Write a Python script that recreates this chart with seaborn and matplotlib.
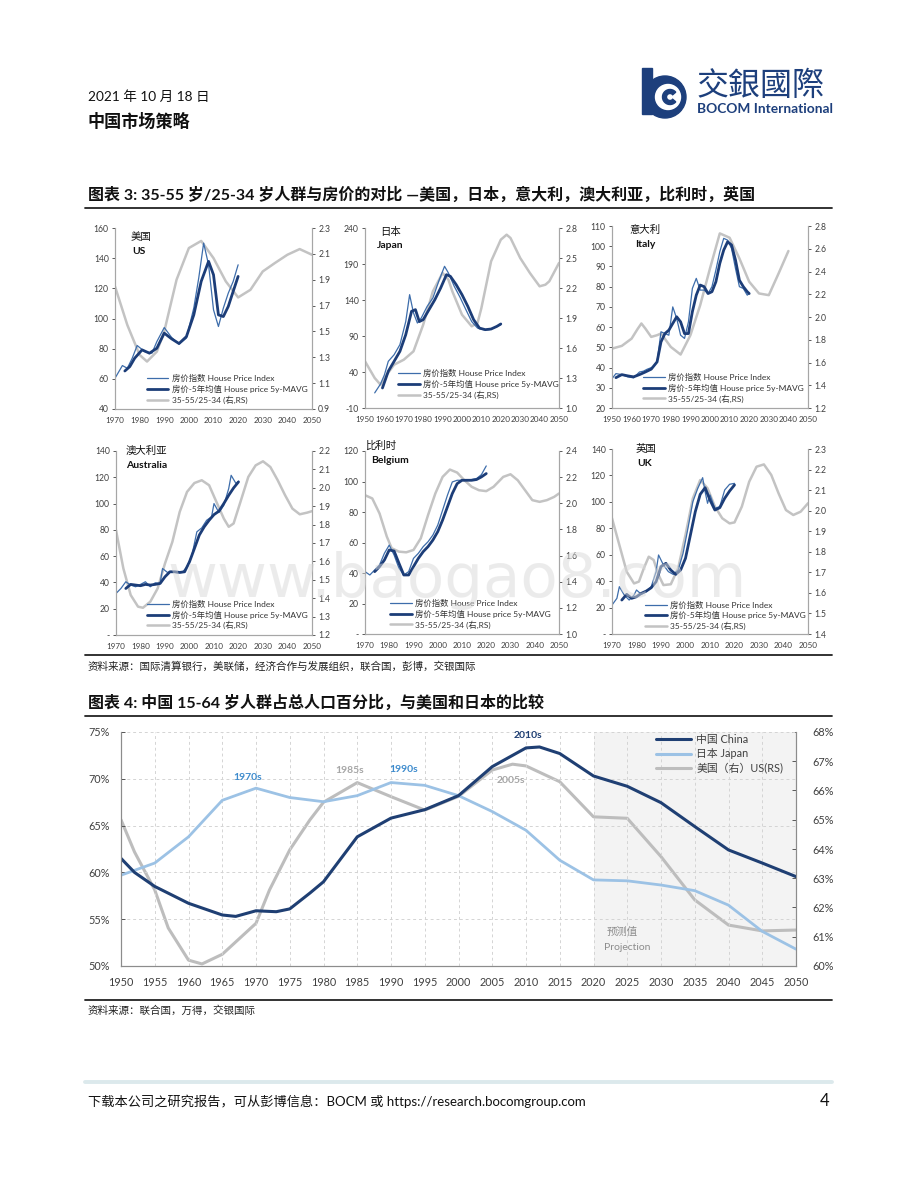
import matplotlib
matplotlib.use('Agg')
import matplotlib.pyplot as plt
from matplotlib.lines import Line2D
from matplotlib.patches import Circle, Wedge, Rectangle
import seaborn as sns

# ---------------- data: figure 3 (house price vs 35-55/25-34 ratio) ----------------
us_hpi_years = [1970, 1973, 1975, 1977, 1979, 1982, 1985, 1987, 1990, 1993, 1996, 1999, 2002, 2004, 2006, 2008, 2010, 2012, 2014, 2016, 2018, 2020]
us_hpi = [60.4, 68.8, 67, 73.7, 82.1, 78.1, 77, 84.7, 94, 87.4, 83, 87, 107, 126.8, 150, 135.6, 105.8, 94.7, 106.9, 116.8, 124.6, 135.6]
us_mavg_years = [1974, 1976, 1978, 1981, 1984, 1987, 1990, 1993, 1996, 1999, 2002, 2005, 2008, 2010, 2012, 2014, 2016, 2018, 2020]
us_mavg = [65.2, 68.1, 73.7, 79.2, 77, 80.3, 90.3, 86.5, 83.4, 88, 102.4, 124.6, 137.9, 129, 102.4, 101.3, 108, 118, 127.9]
us_rs_years = [1970, 1975, 1980, 1983, 1987, 1990, 1995, 2000, 2005, 2010, 2015, 2020, 2025, 2030, 2035, 2040, 2045, 2050]
us_rs = [1.848, 1.55, 1.318, 1.267, 1.344, 1.5, 1.9, 2.145, 2.2, 2.067, 1.887, 1.763, 1.822, 1.964, 2.03, 2.093, 2.137, 2.093]

jp_hpi_years = [1955, 1958, 1960, 1962, 1965, 1968, 1971, 1973, 1975, 1977, 1979, 1982, 1985, 1988, 1991, 1993, 1996, 1999, 2002, 2005, 2008, 2011, 2014, 2017, 2020]
jp_hpi = [11, 23.3, 36, 54.8, 64, 78, 110, 147.4, 122, 108, 115, 131, 142.8, 166, 186.8, 177.5, 159, 143.7, 126.6, 110, 101, 98.8, 98.8, 102, 105.7]
jp_mavg_years = [1959, 1962, 1965, 1968, 1971, 1974, 1976, 1978, 1980, 1983, 1986, 1989, 1992, 1994, 1997, 2000, 2003, 2006, 2009, 2012, 2015, 2018, 2020]
jp_mavg = [17.8, 41, 54.8, 68.7, 91.8, 124.3, 126.6, 110, 112.7, 126.6, 140.4, 156.7, 175.2, 172.9, 161.3, 147.4, 131.2, 112.7, 101, 98.8, 99.7, 103.4, 106.7]
jp_rs_years = [1950, 1955, 1958, 1960, 1965, 1970, 1975, 1980, 1985, 1990, 1993, 1995, 2000, 2005, 2008, 2010, 2015, 2020, 2023, 2025, 2030, 2035, 2040, 2043, 2045, 2050]
jp_rs = [1.467, 1.3, 1.233, 1.3, 1.433, 1.483, 1.567, 1.833, 2.167, 2.35, 2.283, 2.167, 1.933, 1.817, 1.85, 2.0, 2.467, 2.683, 2.733, 2.7, 2.5, 2.35, 2.217, 2.233, 2.267, 2.45]

it_hpi_years = [1950, 1952, 1955, 1958, 1961, 1964, 1966, 1968, 1971, 1973, 1975, 1977, 1979, 1981, 1983, 1985, 1987, 1989, 1991, 1993, 1995, 1997, 1999, 2001, 2003, 2005, 2007, 2009, 2011, 2013, 2015, 2017, 2019, 2020]
it_hpi = [34.5, 37, 36.5, 35.4, 34.9, 37.8, 38.2, 39.2, 40.3, 42.8, 57.7, 56.8, 56, 70, 64.3, 56, 54.4, 62.6, 79.1, 84.1, 78.3, 78.3, 76.6, 80, 88.2, 97.3, 103.9, 103, 98.9, 89, 80, 79.1, 75.8, 76.6]
it_mavg_years = [1952, 1955, 1958, 1961, 1964, 1967, 1970, 1973, 1975, 1977, 1979, 1981, 1983, 1985, 1987, 1989, 1991, 1993, 1995, 1997, 1999, 2001, 2003, 2005, 2007, 2009, 2011, 2013, 2015, 2017, 2019, 2020]
it_mavg = [35, 36.5, 35.9, 35.4, 36.5, 37.8, 39.2, 42.8, 52.7, 56.8, 58.5, 61.8, 65.1, 62.6, 56.8, 56.8, 67.6, 75.8, 80.8, 80, 76.6, 77.5, 82.4, 91.5, 98.1, 102.2, 100.6, 93.2, 83.2, 80, 77.5, 76.6]
it_rs_years = [1950, 1955, 1960, 1963, 1965, 1967, 1970, 1973, 1975, 1980, 1985, 1990, 1995, 2000, 2005, 2010, 2015, 2020, 2025, 2030, 2035, 2040]
it_rs = [1.722, 1.746, 1.81, 1.893, 1.943, 1.899, 1.825, 1.84, 1.855, 1.737, 1.67, 1.84, 2.104, 2.427, 2.735, 2.697, 2.515, 2.31, 2.207, 2.192, 2.383, 2.58]

au_hpi_years = [1970, 1972, 1974, 1976, 1978, 1980, 1982, 1984, 1986, 1988, 1989, 1991, 1993, 1995, 1997, 1999, 2001, 2003, 2005, 2007, 2009, 2010, 2012, 2014, 2016, 2017, 2019, 2020]
au_hpi = [31.6, 35.4, 40.5, 38, 36.7, 38.5, 40.5, 36.7, 39.7, 39.2, 50.6, 47.6, 48.1, 47.3, 47.6, 51.9, 60.8, 78.5, 81.5, 87.3, 89.9, 100, 93.2, 98.7, 111.4, 121.5, 115.2, 117]
au_mavg_years = [1974, 1976, 1978, 1980, 1982, 1984, 1986, 1988, 1990, 1992, 1994, 1996, 1998, 2000, 2002, 2004, 2006, 2008, 2010, 2012, 2014, 2016, 2018, 2020]
au_mavg = [35.4, 38.5, 38, 37.5, 38.5, 38, 38.5, 39.2, 44.3, 48.1, 48.1, 47.6, 48.1, 55.7, 65.8, 76, 82.3, 87.3, 91.6, 94.2, 100, 106.3, 111.9, 116.5]
au_rs_years = [1970, 1973, 1976, 1979, 1981, 1984, 1987, 1990, 1993, 1996, 1999, 2002, 2005, 2008, 2011, 2014, 2016, 2018, 2021, 2024, 2027, 2030, 2033, 2036, 2039, 2042, 2045, 2048, 2050]
au_rs = [1.77, 1.562, 1.417, 1.354, 1.348, 1.381, 1.453, 1.589, 1.706, 1.869, 1.978, 2.026, 2.041, 2.014, 1.923, 1.833, 1.788, 1.806, 1.932, 2.059, 2.122, 2.144, 2.113, 2.041, 1.96, 1.887, 1.856, 1.865, 1.873]

be_hpi_years = [1970, 1972, 1974, 1976, 1978, 1980, 1982, 1984, 1986, 1988, 1990, 1992, 1994, 1996, 1998, 2000, 2002, 2004, 2006, 2008, 2010, 2012, 2014, 2016, 2018, 2020]
be_hpi = [40.9, 38.7, 42, 45.3, 52.9, 58.3, 51.8, 43.1, 38.7, 40.9, 49.6, 52.9, 57.3, 60.5, 64.9, 71.4, 81.2, 91, 99.7, 100.8, 100.8, 100.8, 101.3, 101.9, 104.5, 110.2]
be_mavg_years = [1974, 1976, 1978, 1980, 1982, 1984, 1986, 1988, 1990, 1992, 1994, 1996, 1998, 2000, 2002, 2004, 2006, 2008, 2010, 2012, 2014, 2016, 2018, 2020]
be_mavg = [40.9, 44.2, 48.5, 55.1, 54.4, 46.4, 38.7, 38.7, 44.2, 49.6, 54, 57.3, 61.6, 67.1, 74.7, 83.4, 92.1, 98.6, 100.8, 100.8, 100.8, 101.3, 103, 105.2]
be_rs_years = [1970, 1973, 1976, 1979, 1981, 1984, 1987, 1990, 1993, 1996, 1999, 2002, 2005, 2008, 2011, 2014, 2017, 2020, 2023, 2027, 2030, 2033, 2036, 2039, 2042, 2045, 2048, 2050]
be_rs = [2.062, 2.037, 1.922, 1.745, 1.656, 1.63, 1.625, 1.643, 1.732, 1.91, 2.075, 2.202, 2.258, 2.235, 2.176, 2.126, 2.1, 2.093, 2.126, 2.202, 2.222, 2.176, 2.1, 2.024, 2.011, 2.024, 2.049, 2.075]

uk_hpi_years = [1970, 1972, 1973, 1975, 1977, 1979, 1980, 1982, 1984, 1986, 1988, 1989, 1991, 1993, 1995, 1997, 1999, 2001, 2003, 2005, 2007, 2008, 2009, 2010, 2012, 2014, 2016, 2018, 2020]
uk_hpi = [21.9, 27, 35.8, 29.5, 25.7, 29.5, 33.3, 30, 32, 35.8, 47.2, 59.8, 52.2, 47.2, 45.1, 48.4, 61, 80, 100.1, 110.2, 118.3, 107.7, 98.9, 105.2, 95.1, 96.4, 109, 113.3, 114]
uk_mavg_years = [1974, 1976, 1978, 1980, 1982, 1984, 1986, 1988, 1990, 1992, 1994, 1996, 1998, 2000, 2002, 2004, 2006, 2008, 2010, 2012, 2014, 2016, 2018, 2020]
uk_mavg = [25.7, 30, 27, 28.2, 30.8, 32.5, 35, 39.6, 51, 53.5, 48.4, 45.1, 48.4, 57.3, 74.9, 92.6, 105.7, 110.7, 101.4, 93.8, 95.6, 102.7, 108.2, 112.8]
uk_rs_years = [1970, 1973, 1976, 1979, 1981, 1983, 1985, 1987, 1989, 1991, 1994, 1997, 2000, 2003, 2006, 2009, 2012, 2015, 2018, 2020, 2023, 2026, 2029, 2032, 2035, 2038, 2041, 2044, 2047, 2050]
uk_rs = [1.963, 1.833, 1.703, 1.646, 1.655, 1.72, 1.776, 1.76, 1.687, 1.638, 1.642, 1.72, 1.882, 2.06, 2.149, 2.109, 2.02, 1.963, 1.938, 1.943, 2.02, 2.141, 2.214, 2.225, 2.174, 2.084, 2.003, 1.979, 1.995, 2.036]

legend_labels = ['房价指数 House Price Index', '房价-5年均值 House price 5y-MAVG', '35-55/25-34 (右,RS)']

# ---------------- data: figure 4 (share of 15-64 population) ----------------
china_years = [1950, 1952, 1955, 1960, 1965, 1967, 1970, 1973, 1975, 1978, 1980, 1985, 1990, 1995, 2000, 2005, 2010, 2012, 2015, 2020, 2025, 2030, 2035, 2040, 2045, 2050]
china = [61.5, 60.0, 58.5, 56.7, 55.45, 55.3, 55.9, 55.8, 56.1, 57.8, 59.0, 63.8, 65.8, 66.7, 68.2, 71.3, 73.3, 73.4, 72.7, 70.3, 69.2, 67.45, 64.9, 62.4, 61.0, 59.55]
japan_years = [1950, 1955, 1960, 1965, 1970, 1975, 1980, 1985, 1990, 1995, 2000, 2005, 2010, 2015, 2020, 2025, 2030, 2035, 2040, 2045, 2050]
japan = [59.7, 61.0, 63.8, 67.7, 69.0, 68.0, 67.55, 68.2, 69.6, 69.3, 68.2, 66.5, 64.5, 61.3, 59.2, 59.1, 58.65, 58.05, 56.5, 53.7, 51.8]
us_years = [1950, 1952, 1955, 1957, 1960, 1962, 1965, 1970, 1972, 1975, 1978, 1980, 1985, 1990, 1995, 2000, 2005, 2008, 2010, 2015, 2020, 2025, 2030, 2035, 2040, 2045, 2050]
us = [65.0, 63.9, 62.6, 61.3, 60.2, 60.07, 60.4, 61.46, 62.6, 63.97, 65.0, 65.6, 66.27, 65.79, 65.33, 65.8, 66.7, 66.9, 66.84, 66.3, 65.1, 65.05, 63.74, 62.26, 61.4, 61.2, 61.23]
big_legend = ['中国 China', '日本 Japan', '美国（右）US(RS)']

# ---------------- style ----------------
sns.set_theme(style='white')
plt.rcParams['font.family'] = ['Lato', 'Noto Sans CJK SC', 'DejaVu Sans']
plt.rcParams['axes.unicode_minus'] = False

C_HPI = '#3d6dab'
C_MAVG = '#1c3d78'
C_RS = '#c3c3c3'
C_TXT = '#404040'
C_SPINE = '#a6a6a6'

W, H = 920, 1191
fig = plt.figure(figsize=(9.2, 11.91), dpi=100)


def rect(x0, y0, x1, y1):
    return [x0 / W, 1 - y1 / H, (x1 - x0) / W, (y1 - y0) / H]


# page layer in pixel coordinates
page = fig.add_axes([0, 0, 1, 1])
page.set_xlim(0, W)
page.set_ylim(H, 0)
page.axis('off')

page.text(88, 97, '2021 年 10 月 18 日', fontsize=9.8, va='center', color='#111111')
page.text(88, 121, '中国市场策略', fontsize=12.3, fontweight='bold', va='center', color='#111111')

# logo
navy = '#1d3f7c'
page.add_patch(Rectangle((642, 68), 10, 46, color=navy))
page.add_patch(Circle((665, 97), 21, color=navy))
page.add_patch(Circle((668, 97), 12.5, color='white'))
page.add_patch(Wedge((670, 97), 7.5, 40, 320, width=4, color=navy))
page.text(696, 86, '交銀國際', fontsize=23, color=navy, va='center',
          family=['Noto Sans CJK TC', 'DejaVu Sans'])
page.text(697, 109, 'BOCOM International', fontsize=9.9, fontweight='bold', color=navy, va='center')

page.text(88, 195, '图表 3: 35-55 岁/25-34 岁人群与房价的对比 —美国，日本，意大利，澳大利亚，比利时，英国',
          fontsize=11.5, fontweight='bold', va='center', color='#111111')
page.plot([85, 832], [208, 208], color='#222222', lw=1.3)
page.plot([85, 832], [655, 655], color='#222222', lw=1.3)
page.text(88, 666, '资料来源：国际清算银行，美联储，经济合作与发展组织，联合国，彭博，交银国际',
          fontsize=7.6, style='italic', va='center', color='#222222')

page.text(88, 703, '图表 4: 中国 15-64 岁人群占总人口百分比，与美国和日本的比较',
          fontsize=11.5, fontweight='bold', va='center', color='#111111')
page.plot([85, 832], [716, 716], color='#222222', lw=1.3)
page.plot([85, 832], [1000, 1000], color='#222222', lw=1.3)
page.text(88, 1010, '资料来源：联合国，万得，交银国际', fontsize=7.6, style='italic', va='center', color='#222222')

page.plot([85, 832], [1082, 1082], color='#dce9ec', lw=2.8)
page.text(88, 1101, '下载本公司之研究报告，可从彭博信息：BOCM 或 https://research.bocomgroup.com',
          fontsize=9.5, va='center', color='#111111')
page.text(829, 1101, '4', fontsize=12, va='center', ha='right', color='#111111')


# ---------------- small panels ----------------
def panel(r, hy, hv, my, mv, ry, rv, xlim, xticks, ylim, yticks, ylabels, rlim, rticks,
          cn, en, cn_pos, en_pos, leg_pos):
    ax = fig.add_axes(rect(*r))
    ax2 = ax.twinx()
    ax.set_zorder(ax2.get_zorder() + 1)
    ax.patch.set_visible(False)

    sns.lineplot(x=ry, y=rv, ax=ax2, color=C_RS, lw=1.8, legend=False)
    sns.lineplot(x=hy, y=hv, ax=ax, color=C_HPI, lw=0.9, legend=False)
    sns.lineplot(x=my, y=mv, ax=ax, color=C_MAVG, lw=2.0, legend=False)

    ax.set_xlim(*xlim)
    ax.set_ylim(*ylim)
    ax2.set_ylim(*rlim)
    ax.set_xticks(xticks)
    ax.set_xticklabels([str(t) for t in xticks])
    ax.set_yticks(yticks)
    ax.set_yticklabels(ylabels)
    ax2.set_yticks(rticks)
    ax2.set_yticklabels(['%.1f' % t for t in rticks])
    ax.set_xlabel('')
    ax.set_ylabel('')
    ax2.set_ylabel('')
    for a in (ax, ax2):
        a.tick_params(axis='both', labelsize=6.2, colors=C_TXT, length=2.5, width=0.6, pad=2,
                      direction='out')
        for s in a.spines.values():
            s.set_color(C_SPINE)
            s.set_linewidth(0.8)
        a.spines['top'].set_visible(False)
    ax.tick_params(axis='x', labelsize=5.9, length=0, pad=6)
    ax.tick_params(axis='y', left=True, right=False)
    ax2.tick_params(axis='y', right=True)
    ax.text(cn_pos[0], cn_pos[1], cn, transform=ax.transAxes, fontsize=7.5, va='center', ha='left',
            color='#111111')
    ax.text(en_pos[0], en_pos[1], en, transform=ax.transAxes, fontsize=7.5, fontweight='bold',
            va='center', ha='left', color='#111111')
    handles = [Line2D([], [], color=C_HPI, lw=0.9), Line2D([], [], color=C_MAVG, lw=2.0),
               Line2D([], [], color=C_RS, lw=1.8)]
    ax.legend(handles, legend_labels, loc='lower left', bbox_to_anchor=leg_pos, frameon=False,
              fontsize=6.0, handlelength=2.6, handletextpad=0.4, labelspacing=0.3,
              borderpad=0, borderaxespad=0)
    for t in ax.get_legend().get_texts():
        t.set_color('#333333')
    return ax


dec70 = list(range(1970, 2051, 10))
dec50 = list(range(1950, 2051, 10))

panel((115, 228, 312, 409), us_hpi_years, us_hpi, us_mavg_years, us_mavg, us_rs_years, us_rs,
      (1970, 2050), dec70, (40, 160), list(range(40, 161, 20)), [str(v) for v in range(40, 161, 20)],
      (0.9, 2.3), [0.9, 1.1, 1.3, 1.5, 1.7, 1.9, 2.1, 2.3],
      '美国', 'US', (0.08, 0.95), (0.09, 0.87), (0.16, 0.03))

panel((365, 228, 559, 408), jp_hpi_years, jp_hpi, jp_mavg_years, jp_mavg, jp_rs_years, jp_rs,
      (1950, 2050), dec50, (-10, 240), list(range(-10, 241, 50)), [str(v) for v in range(-10, 241, 50)],
      (1.0, 2.8), [1.0, 1.3, 1.6, 1.9, 2.2, 2.5, 2.8],
      '日本', 'Japan', (0.08, 0.98), (0.06, 0.9), (0.17, 0.05))

panel((612, 226, 808, 408), it_hpi_years, it_hpi, it_mavg_years, it_mavg, it_rs_years, it_rs,
      (1950, 2050), dec50, (20, 110), list(range(20, 111, 10)), [str(v) for v in range(20, 111, 10)],
      (1.2, 2.8), [1.2, 1.4, 1.6, 1.8, 2.0, 2.2, 2.4, 2.6, 2.8],
      '意大利', 'Italy', (0.09, 0.98), (0.12, 0.9), (0.16, 0.03))

panel((116, 451, 312, 635), au_hpi_years, au_hpi, au_mavg_years, au_mavg, au_rs_years, au_rs,
      (1970, 2050), dec70, (0, 140), list(range(0, 141, 20)), ['-'] + [str(v) for v in range(20, 141, 20)],
      (1.2, 2.2), [1.2, 1.3, 1.4, 1.5, 1.6, 1.7, 1.8, 1.9, 2.0, 2.1, 2.2],
      '澳大利亚', 'Australia', (0.05, 1.0), (0.05, 0.92), (0.16, 0.03))

panel((365, 451, 559, 634), be_hpi_years, be_hpi, be_mavg_years, be_mavg, be_rs_years, be_rs,
      (1970, 2050), dec70, (0, 120), list(range(0, 121, 20)), ['-'] + [str(v) for v in range(20, 121, 20)],
      (1.0, 2.4), [1.0, 1.2, 1.4, 1.6, 1.8, 2.0, 2.2, 2.4],
      '比利时', 'Belgium', (0.0, 1.03), (0.03, 0.95), (0.13, 0.03))

panel((612, 449, 808, 634), uk_hpi_years, uk_hpi, uk_mavg_years, uk_mavg, uk_rs_years, uk_rs,
      (1970, 2050), dec70, (0, 140), list(range(0, 141, 20)), ['-'] + [str(v) for v in range(20, 141, 20)],
      (1.4, 2.3), [1.4, 1.5, 1.6, 1.7, 1.8, 1.9, 2.0, 2.1, 2.2, 2.3],
      '英国', 'UK', (0.12, 1.0), (0.13, 0.92), (0.17, 0.02))

# ---------------- big chart ----------------
ax = fig.add_axes(rect(121, 732, 796, 966))
ax2 = ax.twinx()
ax.set_zorder(ax2.get_zorder() + 1)
ax.patch.set_visible(False)

ax2.axvspan(2020, 2050, color='#f3f3f3', zorder=0, lw=0)
sns.lineplot(x=us_years, y=us, ax=ax2, color='#bdbdbd', lw=2.2, legend=False)
sns.lineplot(x=japan_years, y=japan, ax=ax, color='#9cc2e5', lw=2.0, legend=False)
sns.lineplot(x=china_years, y=china, ax=ax, color='#1f3f73', lw=2.2, legend=False)

ax.set_xlim(1950, 2050)
ax.set_ylim(50, 75)
ax2.set_ylim(60, 68)
ax.set_xticks(list(range(1950, 2051, 5)))
ax.set_yticks(list(range(50, 76, 5)))
ax.set_yticklabels(['%d%%' % v for v in range(50, 76, 5)])
ax2.set_yticks(list(range(60, 69)))
ax2.set_yticklabels(['%d%%' % v for v in range(60, 69)])
ax.set_xlabel('')
ax.set_ylabel('')
ax2.set_ylabel('')
ax.grid(True, ls=(0, (3, 3)), color='#d4d4d4', lw=0.7)
ax.set_axisbelow(True)
for a in (ax, ax2):
    a.tick_params(axis='both', labelsize=7.8, colors=C_TXT, length=3, width=0.6, direction='in')
    for s in a.spines.values():
        s.set_color('#8c8c8c')
        s.set_linewidth(0.8)
    a.spines['top'].set_visible(False)
ax.tick_params(axis='x', pad=8)
ax.tick_params(axis='y', pad=8)
ax2.tick_params(axis='y', pad=12)

ax.text(1968.8, 70.1, '1970s', color='#3d8bcd', fontsize=7.5, fontweight='bold', ha='center', va='center')
ax.text(1983.9, 70.9, '1985s', color='#a6a6a6', fontsize=7.5, fontweight='bold', ha='center', va='center')
ax.text(1991.8, 71.0, '1990s', color='#3d8bcd', fontsize=7.5, fontweight='bold', ha='center', va='center')
ax.text(2010.3, 74.6, '2010s', color='#1f3f73', fontsize=7.5, fontweight='bold', ha='center', va='center')
ax.text(2007.8, 69.8, '2005s', color='#a6a6a6', fontsize=7.5, fontweight='bold', ha='center', va='center')
ax.text(2024.3, 53.6, '预测值', color='#8c8c8c', fontsize=7.5, ha='center', va='center')
ax.text(2025.0, 52.0, 'Projection', color='#8c8c8c', fontsize=7.5, ha='center', va='center')

bh = [Line2D([], [], color='#1f3f73', lw=2.2), Line2D([], [], color='#9cc2e5', lw=2.2),
      Line2D([], [], color='#bdbdbd', lw=2.2)]
lg = ax.legend(bh, big_legend, loc='upper left', bbox_to_anchor=(0.79, 1.0), frameon=False,
               fontsize=7.8, handlelength=3.2, handletextpad=0.5, labelspacing=0.3,
               borderpad=0, borderaxespad=0.2)
for t in lg.get_texts():
    t.set_color('#404040')

# watermark
fig.text(457 / W, 1 - 580 / H, 'www.baogao8.com', fontsize=44, color='#d9d9d9', alpha=0.5,
         ha='center', va='center', family='DejaVu Sans', zorder=20)

fig.savefig('out.png', dpi=100)
